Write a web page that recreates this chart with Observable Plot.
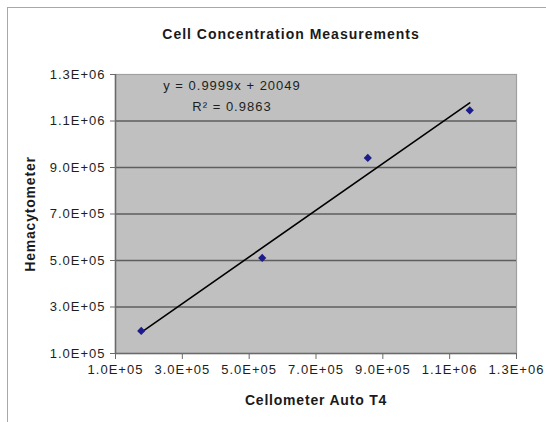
<!DOCTYPE html>
<html>
<head>
<meta charset="utf-8">
<script src="https://cdn.jsdelivr.net/npm/d3@7"></script>
<script src="https://cdn.jsdelivr.net/npm/@observablehq/plot@0.6"></script>
<style>
  html, body { margin: 0; padding: 0; background: #fff; overflow: hidden; width: 546px; height: 422px; }
  #wrap { position: relative; width: 546px; height: 422px; }
  #border { position: absolute; left: 7px; top: 7px; width: 620px; height: 620px; border: 1px solid #a8a8a8; box-sizing: border-box; }
  #title { position: absolute; left: 0; top: 0; width: 582px; height: 50px; line-height: 16px; padding-top: 26px; box-sizing: border-box;
           text-align: center; font-family: "Liberation Sans", Arial, sans-serif; font-weight: bold; font-size: 14px; letter-spacing: 1px; color: #1a1a1a; }
  #chart { position: absolute; left: 0; top: 50px; }
</style>
</head>
<body>
<div id="wrap">
  <div id="border"></div>
  <div id="title"></div>
  <div id="chart"></div>
</div>
<script>
const chartTitle = "Cell Concentration Measurements";
const xLabel = "Cellometer Auto T4";
const yLabel = "Hemacytometer";

// Measured values (Cellometer Auto T4 vs. Hemacytometer)
const cellometer    = [177000, 539000, 855000, 1160000];
const hemacytometer = [197000, 511000, 941000, 1146000];

// Trendline annotation (as printed on the chart)
const trendSlope = 0.9999;
const trendIntercept = 20049;
const rSquared = 0.9863;

// Axis ticks and labels
const tickValues = [100000, 300000, 500000, 700000, 900000, 1100000, 1300000];
const tickLabels = ["1.0E+05", "3.0E+05", "5.0E+05", "7.0E+05", "9.0E+05", "1.1E+06", "1.3E+06"];
const gridValues = [300000, 500000, 700000, 900000, 1100000];

const data = cellometer.map((x, i) => ({x, y: hemacytometer[i]}));
const fmt = v => tickLabels[tickValues.indexOf(v)] ?? "";

document.getElementById("title").textContent = chartTitle;

const eq1 = `y = ${trendSlope}x + ${trendIntercept}`;
const eq2 = `R\u00B2 = ${rSquared}`;

const font = "Liberation Sans, Arial, sans-serif";

const plot = Plot.plot({
  width: 546,
  height: 372,
  marginLeft: 115,
  marginRight: 30,
  marginTop: 24,
  marginBottom: 69,
  style: { fontFamily: font, fontSize: "13px", color: "#1e1e1e", background: "transparent", overflow: "visible" },
  x: { domain: [100000, 1300000] },
  y: { domain: [100000, 1300000] },
  marks: [
    Plot.frame({ fill: "#c0c0c0", stroke: "#a0a0a0", strokeWidth: 1.2 }),
    Plot.gridY(gridValues, { stroke: "#5e5e5e", strokeOpacity: 1, strokeWidth: 1.6 }),
    Plot.ruleX([100000], { stroke: "#6a6a6a", strokeWidth: 1.5 }),
    Plot.ruleY([100000], { stroke: "#6a6a6a", strokeWidth: 1.5 }),
    Plot.axisX(tickValues, { tickFormat: fmt, tickSize: 6, tickPadding: 5, stroke: "#6a6a6a", fill: "#1e1e1e", label: null }),
    Plot.axisY(tickValues, { tickFormat: fmt, tickSize: 5, tickPadding: 5, stroke: "#6a6a6a", fill: "#1e1e1e", label: null }),
    Plot.linearRegressionY(data, { x: "x", y: "y", ci: 0, stroke: "#000", strokeWidth: 1.6 }),
    Plot.dot(data, { x: "x", y: "y", symbol: "diamond2", r: 3.7, fill: "#1c1c8a", stroke: "none" }),
    Plot.text([eq1], { frameAnchor: "top-left", dx: 116.5, dy: 11, textAnchor: "middle", lineAnchor: "middle", fill: "#1e1e1e" }),
    Plot.text([eq2], { frameAnchor: "top-left", dx: 116.5, dy: 32.5, textAnchor: "middle", lineAnchor: "middle", fill: "#1e1e1e" }),
    Plot.text([yLabel], { frameAnchor: "left", rotate: -90, dx: -85, textAnchor: "middle", lineAnchor: "middle", fontWeight: "bold", fill: "#1a1a1a", className: "lbl" }),
    Plot.text([xLabel], { frameAnchor: "bottom", dy: 47.5, textAnchor: "middle", lineAnchor: "middle", fontWeight: "bold", fill: "#1a1a1a", className: "lbl" })
  ]
});
plot.querySelectorAll("text").forEach(t => {
  const isLabel = t.closest("g.lbl") !== null;
  t.style.fontFamily = font;
  t.style.fontSize = isLabel ? "14px" : "13px";
  t.style.letterSpacing = isLabel ? "0.8px" : "1px";
});
document.getElementById("chart").appendChild(plot);
</script>
</body>
</html>
